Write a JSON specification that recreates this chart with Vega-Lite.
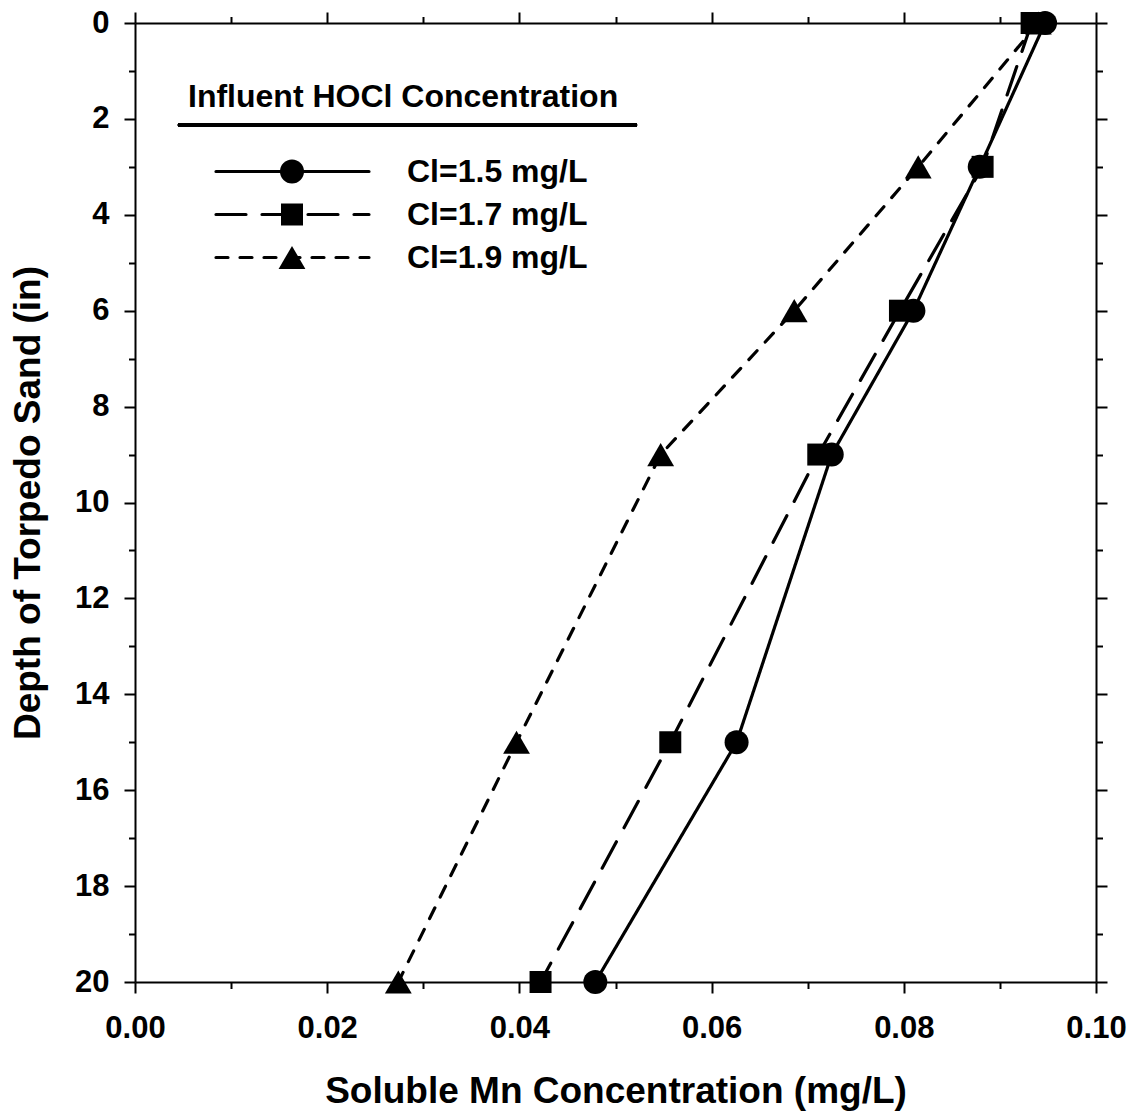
{
  "$schema": "https://vega.github.io/schema/vega-lite/v6.json",
  "width": 961,
  "height": 959,
  "autosize": "none",
  "padding": {"left": 135, "top": 23, "right": 37, "bottom": 132},
  "background": "white",
  "config": {
    "view": {"stroke": null},
    "font": "Liberation Sans",
    "axis": {
      "domainColor": "black",
      "domainWidth": 2,
      "tickColor": "black",
      "tickWidth": 2,
      "labelFont": "Liberation Sans",
      "labelFontWeight": "bold",
      "labelFontSize": 31,
      "labelColor": "black",
      "titleFont": "Liberation Sans",
      "titleFontWeight": "bold",
      "titleFontSize": 37,
      "titleColor": "black",
      "grid": false,
      "labelOverlap": false,
      "labelFlush": false
    }
  },
  "data": {
    "values": [
      {"series": "Cl=1.9 mg/L", "depth": 0, "mn": 0.0940},
      {"series": "Cl=1.9 mg/L", "depth": 3, "mn": 0.0815},
      {"series": "Cl=1.9 mg/L", "depth": 6, "mn": 0.0686},
      {"series": "Cl=1.9 mg/L", "depth": 9, "mn": 0.0547},
      {"series": "Cl=1.9 mg/L", "depth": 15, "mn": 0.0397},
      {"series": "Cl=1.9 mg/L", "depth": 20, "mn": 0.0274},
      {"series": "Cl=1.7 mg/L", "depth": 0, "mn": 0.0933},
      {"series": "Cl=1.7 mg/L", "depth": 3, "mn": 0.0882},
      {"series": "Cl=1.7 mg/L", "depth": 6, "mn": 0.0796},
      {"series": "Cl=1.7 mg/L", "depth": 9, "mn": 0.0711},
      {"series": "Cl=1.7 mg/L", "depth": 15, "mn": 0.0557},
      {"series": "Cl=1.7 mg/L", "depth": 20, "mn": 0.0422},
      {"series": "Cl=1.5 mg/L", "depth": 0, "mn": 0.0947},
      {"series": "Cl=1.5 mg/L", "depth": 3, "mn": 0.0879},
      {"series": "Cl=1.5 mg/L", "depth": 6, "mn": 0.0810},
      {"series": "Cl=1.5 mg/L", "depth": 9, "mn": 0.0725},
      {"series": "Cl=1.5 mg/L", "depth": 15, "mn": 0.0626},
      {"series": "Cl=1.5 mg/L", "depth": 20, "mn": 0.0479}
    ]
  },
  "layer": [
    {
      "mark": {"type": "rule", "color": "black", "strokeWidth": 3},
      "encoding": {
        "x": {"datum": 0.00447, "type": "quantitative", "axis": null},
        "x2": {"datum": 0.05224},
        "y": {"datum": 2.127, "type": "quantitative", "axis": null}
      }
    },
    {
      "mark": {"type": "line", "color": "black", "strokeWidth": 3.2, "strokeCap": "round", "strokeJoin": "round"},
      "encoding": {
        "x": {
          "field": "mn", "type": "quantitative",
          "scale": {"domain": [0, 0.1], "nice": false, "zero": false},
          "axis": {
            "orient": "bottom",
            "title": "Soluble Mn Concentration (mg/L)",
            "values": [0, 0.01, 0.02, 0.03, 0.04, 0.05, 0.06, 0.07, 0.08, 0.09, 0.1],
            "labelExpr": "round(datum.value*100) % 2 == 0 ? format(datum.value, '.2f') : ''",
            "tickSize": {"condition": {"test": "round(datum.value*100) % 2 == 0", "value": 11}, "value": 6.5},
            "labelPadding": 20,
            "titlePadding": 30
          }
        },
        "y": {
          "field": "depth", "type": "quantitative",
          "scale": {"domain": [0, 20], "reverse": true, "nice": false, "zero": false},
          "axis": {
            "orient": "left",
            "title": "Depth of Torpedo Sand (in)",
            "values": [0, 1, 2, 3, 4, 5, 6, 7, 8, 9, 10, 11, 12, 13, 14, 15, 16, 17, 18, 19, 20],
            "labelExpr": "datum.value % 2 == 0 ? datum.label : ''",
            "tickSize": {"condition": {"test": "datum.value % 2 == 0", "value": 11}, "value": 6.5},
            "labelPadding": 15,
            "titlePadding": 27
          }
        },
        "strokeDash": {
          "field": "series", "type": "nominal",
          "scale": {"domain": ["Cl=1.5 mg/L", "Cl=1.7 mg/L", "Cl=1.9 mg/L"], "range": [[1, 0], [30, 16], [12, 12]]},
          "legend": {
            "title": "Influent HOCl Concentration",
            "orient": "none",
            "legendX": 53,
            "legendY": 59,
            "padding": 0,
            "symbolType": "stroke",
            "symbolSize": 23409,
            "symbolStrokeWidth": 3.2,
            "symbolStrokeColor": "black",
            "symbolOffset": 26,
            "labelOffset": 36,
            "clipHeight": 41,
            "rowPadding": 2,
            "titlePadding": 37,
            "titleFont": "Liberation Sans",
            "titleFontSize": 32,
            "titleFontWeight": "bold",
            "titleColor": "black",
            "titleLimit": 800,
            "labelFont": "Liberation Sans",
            "labelFontSize": 32,
            "labelFontWeight": "bold",
            "labelColor": "black",
            "labelLimit": 600,
            "labelBaseline": "middle",
            "encode": {"symbols": {"update": {"strokeCap": {"value": "round"}}}}
          }
        },
        "order": {"field": "depth", "type": "quantitative"}
      }
    },
    {
      "transform": [{"calculate": "datum.series", "as": "cl"}],
      "mark": {"type": "point", "filled": true, "color": "black", "opacity": 1},
      "encoding": {
        "x": {
          "field": "mn", "type": "quantitative",
          "axis": {
            "orient": "top", "title": null, "labels": false,
            "values": [0, 0.01, 0.02, 0.03, 0.04, 0.05, 0.06, 0.07, 0.08, 0.09, 0.1],
            "tickSize": {"condition": {"test": "round(datum.value*100) % 2 == 0", "value": 11}, "value": 6.5}
          }
        },
        "y": {
          "field": "depth", "type": "quantitative",
          "axis": {
            "orient": "right", "title": null, "labels": false,
            "values": [0, 1, 2, 3, 4, 5, 6, 7, 8, 9, 10, 11, 12, 13, 14, 15, 16, 17, 18, 19, 20],
            "tickSize": {"condition": {"test": "datum.value % 2 == 0", "value": 11}, "value": 6.5}
          }
        },
        "shape": {
          "field": "cl", "type": "nominal",
          "scale": {"range": ["circle", "square", "triangle-up"]},
          "legend": {
            "title": null,
            "orient": "none",
            "legendX": 141,
            "legendY": 128,
            "padding": 0,
            "symbolFillColor": "black",
            "symbolStrokeWidth": 0,
            "symbolOffset": 0,
            "clipHeight": 41,
            "rowPadding": 2,
            "labelExpr": "''",
            "labelFontSize": 32
          }
        },
        "size": {
          "field": "cl", "type": "nominal",
          "scale": {"type": "ordinal", "range": [576, 484, 720]},
          "legend": {
            "title": null,
            "orient": "none",
            "legendX": 141,
            "legendY": 128,
            "padding": 0,
            "symbolFillColor": "black",
            "symbolStrokeWidth": 0,
            "symbolOffset": 0,
            "clipHeight": 41,
            "rowPadding": 2,
            "labelExpr": "''",
            "labelFontSize": 32
          }
        }
      }
    }
  ],
  "resolve": {"axis": {"x": "independent", "y": "independent"}}
}
